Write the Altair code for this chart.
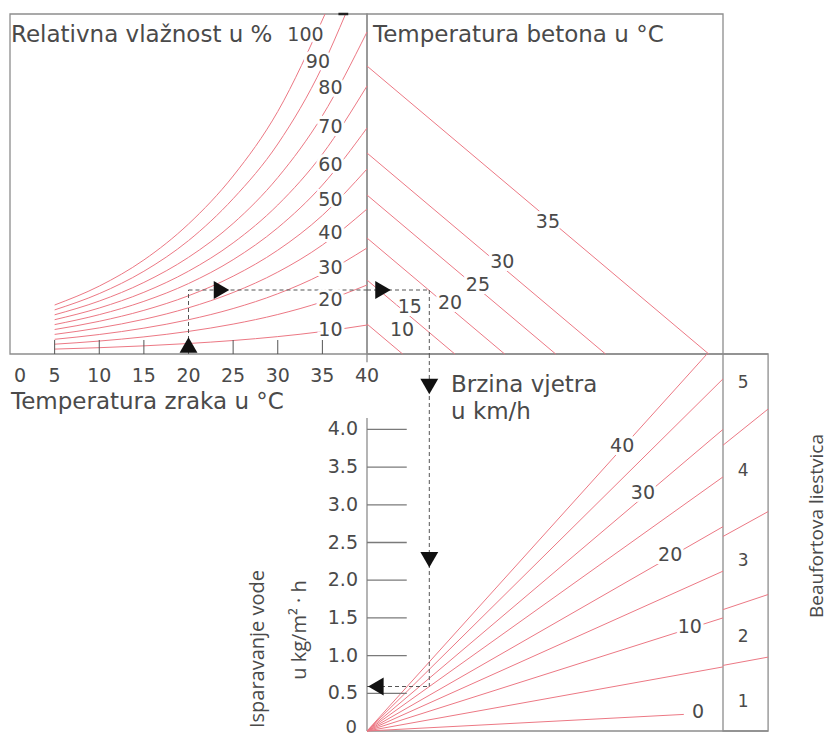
import altair as alt
import pandas as pd

# ---------------- data ----------------
# Left panel: relative humidity curves; x = air temperature (°C), y = vapour term (panel units 0..68)
air_temp = [5, 10, 15, 20, 25, 30, 35, 40]
rh_10 = [0.98, 1.26, 1.63, 2.10, 2.70, 3.48, 4.49, 5.79]
rh_20 = [1.96, 2.59, 3.42, 4.52, 5.98, 7.90, 10.44, 13.8]
rh_30 = [2.94, 3.90, 5.17, 6.85, 9.09, 12.05, 15.98, 21.2]
rh_40 = [3.92, 5.22, 6.94, 9.24, 12.3, 16.38, 21.8, 29.0]
rh_50 = [4.9, 6.54, 8.73, 11.65, 15.56, 20.76, 27.72, 37.0]
rh_60 = [5.88, 7.87, 10.53, 14.09, 18.86, 25.24, 33.78, 45.2]
rh_70 = [6.86, 9.2, 12.34, 16.56, 22.22, 29.8, 39.96, 53.6]
rh_80 = [7.84, 10.59, 14.31, 19.33, 26.11, 35.28, 47.66, 64.4]
rh_90_temp = [5, 10, 15, 20, 25, 30, 35, 37.6]
rh_90 = [8.82, 12.08, 16.55, 22.68, 31.06, 42.0, 57.5, 68.0]
rh_100_temp = [5, 10, 15, 20, 25, 30, 35.3]
rh_100 = [9.8, 13.58, 18.81, 26.0, 35.6, 48.5, 68.0]
rh_levels = [10, 20, 30, 40, 50, 60, 70, 80, 90, 100]
rh_label_temp = [35.9, 35.9, 35.9, 35.9, 35.9, 35.9, 35.9, 35.9, 34.5, 33.1]
rh_label_val = [4.8, 10.8, 17.2, 24.2, 30.8, 37.8, 45.4, 53.2, 58.4, 63.8]
air_ticks = [0, 5, 10, 15, 20, 25, 30, 35, 40]

# Top-right panel: concrete temperature lines (value where each line meets the left edge)
concrete_temp = [10, 15, 20, 25, 30, 35]
concrete_intercept = [6.0, 14.8, 23.2, 31.8, 40.2, 57.6]
concrete_label_x = [5.9, 7.2, 14.0, 18.7, 22.8, 30.5]
concrete_label_y = [4.8, 9.4, 10.2, 13.8, 18.4, 26.4]

# Bottom-right panel: wind speed lines (end points), evaporation in kg/m²·h
wind_speed = [0, 5, 10, 15, 20, 25, 30, 35, 40]
wind_end_x = [53.4, 60, 60, 60, 60, 60, 60, 60, 57.3]
wind_end_e = [0.22, 0.85, 1.50, 2.12, 2.71, 3.37, 4.00, 4.67, 5.0]
wind_labels = ["0", "10", "20", "30", "40"]
wind_label_x = [55.8, 54.4, 51.1, 46.5, 43.0]
wind_label_e = [0.25, 1.38, 2.34, 3.16, 3.78]
evap_ticks = [0.5, 1.0, 1.5, 2.0, 2.5, 3.0, 3.5, 4.0]
evap_labels = [0.5, 1.0, 1.5, 2.0, 2.5, 3.0, 3.5, 4.0]

# Beaufort strip: boundary segments and scale numbers
beaufort_in_e = [0.87, 1.61, 2.58, 3.79]
beaufort_out_e = [0.98, 1.81, 2.91, 4.27]
beaufort_num = [1, 2, 3, 4, 5]
beaufort_num_e = [0.39, 1.25, 2.25, 3.45, 4.61]

# Worked example (dashed path): air 20 °C -> vapour 12.8 -> x 10.5 -> evaporation 0.59
ex_air = 20
ex_vap = 12.8
ex_x = 10.5
ex_evap = 0.59

# ---------------- scales (panel units -> pixels) ----------------
TOP_V = 68
R_X_MAX = 60
STRIP_X = 67.6
E_MAX = 5.0


def sc(domain, rng):
    return alt.Scale(domain=domain, range=rng, nice=False, zero=False)


SX_L = sc([0, 40], [2, 359])
SY_T = sc([0, TOP_V], [346, 6])
SX_R = sc([0, R_X_MAX], [359, 715])
SY_B = sc([0, E_MAX], [723, 346])

RED = "#ec7884"
FRAME = "#8d8d8d"
TXT = "#4a4a4a"
FONT = "DejaVu Sans"
FONT2 = "Open Sans"


def X(f, s):
    return alt.X(f"{f}:Q", scale=s, axis=None)


def Y(f, s):
    return alt.Y(f"{f}:Q", scale=s, axis=None)


layers = []

# ---- frames ----
frames = [
    (pd.DataFrame({"x": [0], "x2": [40], "y": [0], "y2": [TOP_V]}), SX_L, SY_T),
    (pd.DataFrame({"x": [0], "x2": [R_X_MAX], "y": [0], "y2": [TOP_V]}), SX_R, SY_T),
    (pd.DataFrame({"x": [R_X_MAX], "x2": [STRIP_X], "y": [0], "y2": [E_MAX]}), SX_R, SY_B),
]
for df, sx, sy in frames:
    layers.append(
        alt.Chart(df).mark_rect(fill="transparent", stroke=FRAME, strokeWidth=1.3).encode(
            x=X("x", sx), x2="x2:Q", y=Y("y", sy), y2="y2:Q"
        )
    )
# bottom panel: top and bottom edges, left (evaporation) axis line
df_hb = pd.DataFrame({"a": [0, 0], "b": [STRIP_X, STRIP_X], "e": [0, E_MAX]})
layers.append(alt.Chart(df_hb).mark_rule(color=FRAME, strokeWidth=1.3).encode(
    x=X("a", SX_R), x2="b:Q", y=Y("e", SY_B)))
df_vb = pd.DataFrame({"x": [0, 0], "e0": [0, 4.89], "e1": [4.15, E_MAX]})
layers.append(alt.Chart(df_vb).mark_rule(color=FRAME, strokeWidth=1.3).encode(
    x=X("x", SX_R), y=Y("e0", SY_B), y2="e1:Q"))

# ---- humidity curves ----
rows = []
series = [
    (10, air_temp, rh_10), (20, air_temp, rh_20), (30, air_temp, rh_30),
    (40, air_temp, rh_40), (50, air_temp, rh_50), (60, air_temp, rh_60),
    (70, air_temp, rh_70), (80, air_temp, rh_80), (90, rh_90_temp, rh_90),
    (100, rh_100_temp, rh_100),
]
for rh, ts, vs in series:
    for t, v in zip(ts, vs):
        rows.append({"rh": rh, "t": t, "v": v})
df_rh = pd.DataFrame(rows)
layers.append(
    alt.Chart(df_rh).mark_line(color=RED, strokeWidth=1, interpolate="monotone").encode(
        x=X("t", SX_L), y=Y("v", SY_T), detail="rh:N"
    )
)

# ticks on the air temperature axis
df_at = pd.DataFrame({"t": air_ticks[1:-1], "y0": 0, "y1": 2.8})
layers.append(
    alt.Chart(df_at).mark_rule(color="#555555", strokeWidth=1).encode(
        x=X("t", SX_L), y=Y("y0", SY_T), y2="y1:Q"
    )
)

# ---- concrete temperature lines ----
df_c = pd.DataFrame({"tc": concrete_temp, "b": concrete_intercept, "z": 0})
layers.append(
    alt.Chart(df_c).mark_rule(color=RED, strokeWidth=1).encode(
        x=X("z", SX_R), y=Y("b", SY_T), x2="b:Q", y2="z:Q"
    )
)

# ---- wind lines ----
df_w = pd.DataFrame({"v": wind_speed, "xe": wind_end_x, "ee": wind_end_e, "z": 0})
layers.append(
    alt.Chart(df_w).mark_rule(color=RED, strokeWidth=1).encode(
        x=X("z", SX_R), y=Y("z", SY_B), x2="xe:Q", y2="ee:Q"
    )
)

# ---- Beaufort strip segments ----
df_b = pd.DataFrame({"x0": R_X_MAX, "x1": STRIP_X, "e0": beaufort_in_e, "e1": beaufort_out_e})
layers.append(
    alt.Chart(df_b).mark_rule(color=RED, strokeWidth=1).encode(
        x=X("x0", SX_R), y=Y("e0", SY_B), x2="x1:Q", y2="e1:Q"
    )
)

# ---- evaporation ticks ----
df_et = pd.DataFrame({"e": evap_ticks, "x0": 0, "x1": 6.7})
layers.append(
    alt.Chart(df_et).mark_rule(color="#7a7a7a", strokeWidth=1.3).encode(
        x=X("x0", SX_R), x2="x1:Q", y=Y("e", SY_B)
    )
)

# ---- little black mark at the top edge ----
df_mark = pd.DataFrame({"t0": [36.8], "t1": [37.9], "v": [TOP_V]})
layers.append(
    alt.Chart(df_mark).mark_rule(color="#222222", strokeWidth=2.5).encode(
        x=X("t0", SX_L), x2="t1:Q", y=Y("v", SY_T)
    )
)

# ---- dashed example path ----
DASH = dict(color="#555555", strokeWidth=1, strokeDash=[4, 3])
layers.append(alt.Chart(pd.DataFrame({"t": [ex_air], "a": [0], "b": [ex_vap]})).mark_rule(**DASH).encode(
    x=X("t", SX_L), y=Y("a", SY_T), y2="b:Q"))
layers.append(alt.Chart(pd.DataFrame({"a": [ex_air], "b": [40], "v": [ex_vap]})).mark_rule(**DASH).encode(
    x=X("a", SX_L), x2="b:Q", y=Y("v", SY_T)))
layers.append(alt.Chart(pd.DataFrame({"a": [0], "b": [ex_x], "v": [ex_vap]})).mark_rule(**DASH).encode(
    x=X("a", SX_R), x2="b:Q", y=Y("v", SY_T)))
layers.append(alt.Chart(pd.DataFrame({"x": [ex_x], "a": [ex_vap], "b": [0]})).mark_rule(**DASH).encode(
    x=X("x", SX_R), y=Y("a", SY_T), y2="b:Q"))
layers.append(alt.Chart(pd.DataFrame({"x": [ex_x], "a": [E_MAX], "b": [ex_evap]})).mark_rule(**DASH).encode(
    x=X("x", SX_R), y=Y("a", SY_B), y2="b:Q"))
layers.append(alt.Chart(pd.DataFrame({"a": [0], "b": [ex_x], "e": [ex_evap]})).mark_rule(**DASH).encode(
    x=X("a", SX_R), x2="b:Q", y=Y("e", SY_B)))


# ---- arrows ----
def arrow(shape, xv, yv, sx, sy):
    return alt.Chart(pd.DataFrame({"x": [xv], "y": [yv]})).mark_point(
        shape=shape, filled=True, color="#111111", opacity=1, size=320
    ).encode(x=X("x", sx), y=Y("y", sy))


layers.append(arrow("triangle-up", ex_air, 1.8, SX_L, SY_T))
layers.append(arrow("triangle-right", 23.7, ex_vap, SX_L, SY_T))
layers.append(arrow("triangle-right", 2.7, ex_vap, SX_R, SY_T))
layers.append(arrow("triangle-down", ex_x, 4.57, SX_R, SY_B))
layers.append(arrow("triangle-down", ex_x, 2.27, SX_R, SY_B))
layers.append(arrow("triangle-left", 1.5, ex_evap, SX_R, SY_B))


# ---- labels on lines (with white halo) ----
def halo_text(df, xf, yf, sx, sy, size=19, **extra):
    enc = dict(text="lab:N")
    enc["x"] = X(xf, sx) if sx is not None else alt.value(xf)
    enc["y"] = Y(yf, sy) if sy is not None else alt.value(yf)
    base = alt.Chart(df).encode(**enc)
    kw = dict(font=FONT, fontSize=size, align="center", baseline="middle")
    kw.update(extra)
    return [
        base.mark_text(stroke="white", strokeWidth=6, color="white", **kw),
        base.mark_text(color=TXT, **kw),
    ]


df_rhl = pd.DataFrame({"lab": [str(r) for r in rh_levels], "t": rh_label_temp, "v": rh_label_val})
layers += halo_text(df_rhl, "t", "v", SX_L, SY_T)
df_cl = pd.DataFrame({"lab": [str(c) for c in concrete_temp], "x": concrete_label_x, "y": concrete_label_y})
layers += halo_text(df_cl, "x", "y", SX_R, SY_T)
df_wl = pd.DataFrame({"lab": wind_labels, "x": wind_label_x, "e": wind_label_e})
layers += halo_text(df_wl, "x", "e", SX_R, SY_B)

df_bn = pd.DataFrame({"lab": [str(b) for b in beaufort_num], "x": 63.4, "e": beaufort_num_e})
layers.append(alt.Chart(df_bn).mark_text(font=FONT, fontSize=17, color=TXT).encode(
    x=X("x", SX_R), y=Y("e", SY_B), text="lab:N"))

# ---- axis labels ----
df_xt = pd.DataFrame({"t": air_ticks[1:], "lab": [str(t) for t in air_ticks[1:]]})
layers.append(alt.Chart(df_xt).mark_text(font=FONT, fontSize=19, color=TXT, baseline="middle").encode(
    x=X("t", SX_L), y=alt.value(368), text="lab:N"))
layers.append(alt.Chart(pd.DataFrame({"t": [air_ticks[0]], "lab": ["0"]})).mark_text(
    font=FONT, fontSize=19, color=TXT, baseline="middle", align="left", dx=4).encode(
    x=X("t", SX_L), y=alt.value(368), text="lab:N"))

df_el = pd.DataFrame({"e": evap_labels, "lab": [f"{v:.1f}" for v in evap_labels]})
layers.append(alt.Chart(df_el).mark_text(font=FONT, fontSize=19, color=TXT, baseline="middle", align="right").encode(
    x=alt.value(350), y=Y("e", SY_B), text="lab:N"))
layers.append(alt.Chart(pd.DataFrame({"lab": ["0"]})).mark_text(
    font=FONT, fontSize=18, color=TXT, baseline="middle", align="right").encode(
    x=alt.value(349), y=alt.value(720), text="lab:N"))


# ---- titles ----
def title(txt, x, y, size=23, align="left", angle=0, font=FONT):
    kw = dict(font=font, fontSize=size, color=TXT, align=align, baseline="middle")
    if angle:
        kw["angle"] = angle
    return alt.Chart(pd.DataFrame({"lab": [txt]})).mark_text(**kw).encode(
        x=alt.value(x), y=alt.value(y), text="lab:N")


layers.append(title("Relativna vlažnost u %", 3, 27))
layers.append(title("Temperatura betona u °C", 365, 27))
layers.append(title("Temperatura zraka u °C", 3, 394))
layers.append(title("Brzina vjetra", 443, 377))
layers.append(title("u km/h", 443, 404))
layers.append(title("Isparavanje vode", 250, 641, size=20, align="center", angle=270, font=FONT2))
layers.append(title("u kg/m² · h", 292, 622, size=20, align="center", angle=270, font=FONT2))
layers.append(title("Beaufortova liestvica", 809, 518, size=19, align="center", angle=270, font=FONT2))

chart = (
    alt.layer(*layers)
    .resolve_scale(x="independent", y="independent")
    .properties(width=820, height=728, padding=0, autosize=alt.AutoSizeParams(type="none"))
    .configure_view(stroke=None)
)

chart.save("out.html", embed_options={"renderer": "svg", "actions": False})
